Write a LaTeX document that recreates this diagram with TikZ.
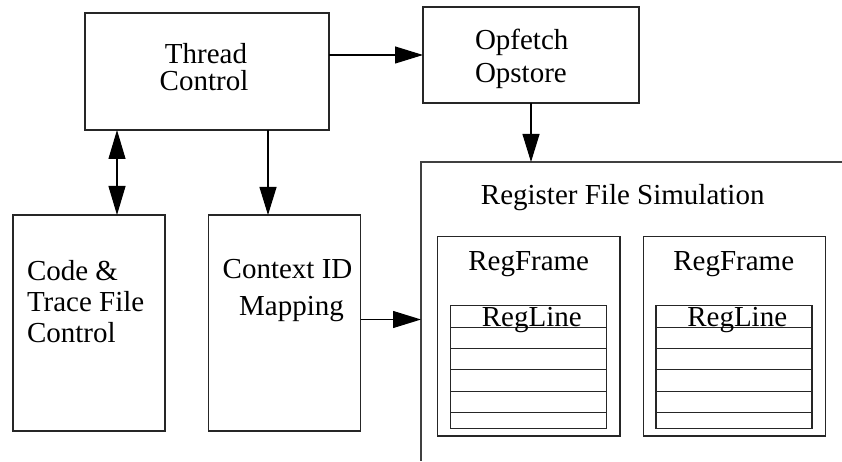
\documentclass[tikz,border=0pt]{standalone}
\usepackage{fontspec}
\setmainfont{Liberation Serif}
\usetikzlibrary{arrows.meta}
\begin{document}
\begin{tikzpicture}[x=1pt,y=-1pt,
  every node/.style={inner sep=0pt, outer sep=0pt},
  box/.style={draw=black!85, line width=1.1pt, anchor=north west},
  lbl/.style={font=\fontsize{29}{31}\selectfont, anchor=base},
  lblw/.style={font=\fontsize{29}{31}\selectfont, anchor=base west},
  conn/.style={line width=1.1pt, -{Triangle[length=28pt,width=17pt]}},
  biconn/.style={line width=1.1pt, {Triangle[length=29pt,width=17pt]}-{Triangle[length=29pt,width=17pt]}},
  wall/.style={draw=black!75, line width=1.4pt},
  grid/.style={draw=black!85, line width=1pt}]
\useasboundingbox (0,0) rectangle (842,462);

% main blocks
\node[box, minimum width=244pt, minimum height=117pt] (thread) at (85,13) {};
\node[box, minimum width=216pt, minimum height=96pt] (opfetch) at (423,7) {};
\node[box, minimum width=152pt, minimum height=216pt] (code) at (13,215) {};
\node[box, minimum width=152pt, minimum height=216pt] (ctx) at (208.5,215) {};

% register file simulation: open frame running off the page
\coordinate (rf-nw) at (421,162);
\coordinate (rf-ne) at (842,162);
\coordinate (rf-sw) at (421,461);
\draw[wall] (rf-ne) -- (rf-nw) -- (rf-sw);

% register frames
\node[box, minimum width=182.3pt, minimum height=199.3pt] (rf1) at (437.7,236.7) {};
\node[box, minimum width=182pt, minimum height=199.3pt] (rf2) at (643.3,236.7) {};

% register lines
\node[box, minimum width=156.4pt, minimum height=122.6pt] (rl1) at (450.3,305.7) {};
\node[box, minimum width=156pt, minimum height=122.6pt] (rl2) at (656,305.7) {};
\foreach \k in {1,...,5} {
  \draw[grid] ([yshift=-21.4*\k pt]rl1.north west) -- ([yshift=-21.4*\k pt]rl1.north east);
  \draw[grid] ([yshift=-21.4*\k pt]rl2.north west) -- ([yshift=-21.4*\k pt]rl2.north east);
}

% labels
\node[lbl] (thread-a) at (206,64) {Thread};
\node[lbl] (thread-b) at (204,90.5) {Control};
\node[lblw] (op-a) at (475,50) {Opfetch};
\node[lblw] (op-b) at (475,83) {Opstore};
\node[lblw] (code-a) at (27,280) {Code \&};
\node[lblw] (code-b) at (27,311.5) {Trace File};
\node[lblw] (code-c) at (27,342) {Control};
\node[lbl] (ctx-a) at (287.5,278.5) {Context ID};
\node[lbl] (ctx-b) at (291.5,315) {Mapping};
\node[lbl] (rf-title) at (622.7,205) {Register File Simulation};
\node[lbl] (rf1-t) at (528.7,270.7) {RegFrame};
\node[lbl] (rf2-t) at (733.7,270.7) {RegFrame};
\node[lbl] (rl1-t) at (531.8,326.7) {RegLine};
\node[lbl] (rl2-t) at (737.2,326.7) {RegLine};

% connectors
\draw[conn] (thread.east |- opfetch.west) -- (opfetch.west);
\draw[conn] (opfetch.south) -- (opfetch.south |- rf-nw);
\coordinate (code-top) at ([xshift=28pt]code.north);
\draw[biconn] (thread.south -| code-top) -- (code-top);
\coordinate (ctx-top) at ([xshift=-16.5pt]ctx.north);
\draw[conn] (thread.south -| ctx-top) -- (ctx-top);
\coordinate (ctx-out) at ([yshift=3.5pt]ctx.east);
\draw[conn] (ctx-out) -- (rf-nw |- ctx-out);
\end{tikzpicture}
\end{document}
